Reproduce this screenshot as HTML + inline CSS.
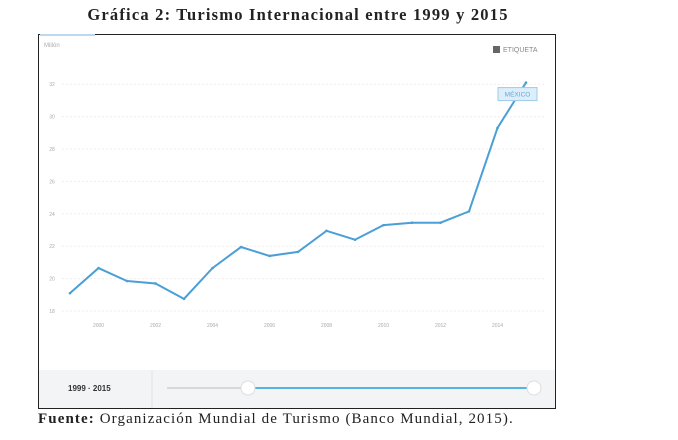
<!DOCTYPE html>
<html><head><meta charset="utf-8"><style>
body{margin:0;width:678px;height:440px;background:#fff;position:relative;overflow:hidden;font-family:"Liberation Serif",serif}
.t{position:absolute;left:0;width:596px;top:5px;text-align:center;font-weight:bold;font-size:16.5px;letter-spacing:1.2px;color:#222}
.f{position:absolute;left:38px;top:411px;font-size:15px;letter-spacing:1.1px;color:#222;white-space:nowrap}
</style></head><body>
<div class="t">Gráfica 2: Turismo Internacional entre 1999 y 2015</div>
<svg id="c" width="678" height="440" style="position:absolute;left:0;top:0">
<rect x="38.5" y="34.5" width="517" height="374" fill="#fff" stroke="#222"/>
<line x1="40" y1="35" x2="95" y2="35" stroke="#bcd8ee" stroke-width="2"/>
<text x="44" y="47" font-size="6" fill="#aaa" font-family="Liberation Sans">Millón</text>
<rect x="39" y="370" width="516" height="38" fill="#f3f4f5"/>
<line x1="152" y1="370" x2="152" y2="408" stroke="#e4e4e4"/>
<text x="68" y="391" font-size="8" font-weight="bold" fill="#333" font-family="Liberation Sans">1999 · 2015</text>
<line x1="167" y1="388" x2="248" y2="388" stroke="#d8d8d8" stroke-width="2"/>
<line x1="248" y1="388" x2="534" y2="388" stroke="#56b3e3" stroke-width="2"/>
<circle cx="248" cy="388" r="7" fill="#fff" stroke="#ddd"/>
<circle cx="534" cy="388" r="7" fill="#fff" stroke="#ddd"/>
<rect x="493" y="46" width="7" height="7" fill="#666"/>
<text x="503" y="52" font-size="7" fill="#888" font-family="Liberation Sans">ETIQUETA</text>
<g id="g"></g>
</svg>
<div class="f"><b>Fuente:</b> Organización Mundial de Turismo (Banco Mundial, 2015).</div>
<script>
const years=[1999,2000,2001,2002,2003,2004,2005,2006,2007,2008,2009,2010,2011,2012,2013,2014,2015];
const values=[19.1,20.65,19.85,19.7,18.75,20.65,21.95,21.4,21.65,22.95,22.4,23.3,23.45,23.45,24.15,29.3,32.1];
const yTicks=[18,20,22,24,26,28,30,32];
const xTicks=[2000,2002,2004,2006,2008,2010,2012,2014];
const X=y=>70+(y-1999)*28.5, Y=v=>311-(v-18)*16.2;
const g=document.getElementById('g'),NS='http://www.w3.org/2000/svg';
function mk(t,a){const e=document.createElementNS(NS,t);for(const k in a)e.setAttribute(k,a[k]);g.appendChild(e);return e;}
yTicks.forEach(t=>{
 const l=mk('line',{x1:62,x2:545,y1:Y(t),y2:Y(t),stroke:'#eee','stroke-dasharray':'2,2'});
 
 
 const tx=mk('text',{x:52,y:Y(t)+2,'font-size':5,fill:'#aaa','font-family':'Liberation Sans','text-anchor':'middle'});tx.textContent=t;
 
 
});
xTicks.forEach(t=>{
 const tx=mk('text',{x:X(t),y:327,'font-size':5,fill:'#aaa','font-family':'Liberation Sans','text-anchor':'middle'});tx.textContent=t;
 
 
});
const p=mk('polyline',{points:years.map((y,i)=>X(y)+','+Y(values[i])).join(' '),fill:'none',stroke:'#4a9fd6','stroke-width':2});


years.forEach((y,i)=>{const c=mk('circle',{cx:X(y),cy:Y(values[i]),r:1.3,fill:'#4a9fd6'});
 
 });
const lx=X(2015)-28,ly=Y(values[16])+5;
const r=mk('rect',{x:lx,y:ly,width:39,height:13,fill:'#dceefa',stroke:'#9ccbe9'});


const lt=mk('text',{x:lx+19.5,y:ly+9,'font-size':6.5,fill:'#6aa8d2','font-family':'Liberation Sans','text-anchor':'middle'});lt.textContent='MÉXICO';


</script>
</body></html>
